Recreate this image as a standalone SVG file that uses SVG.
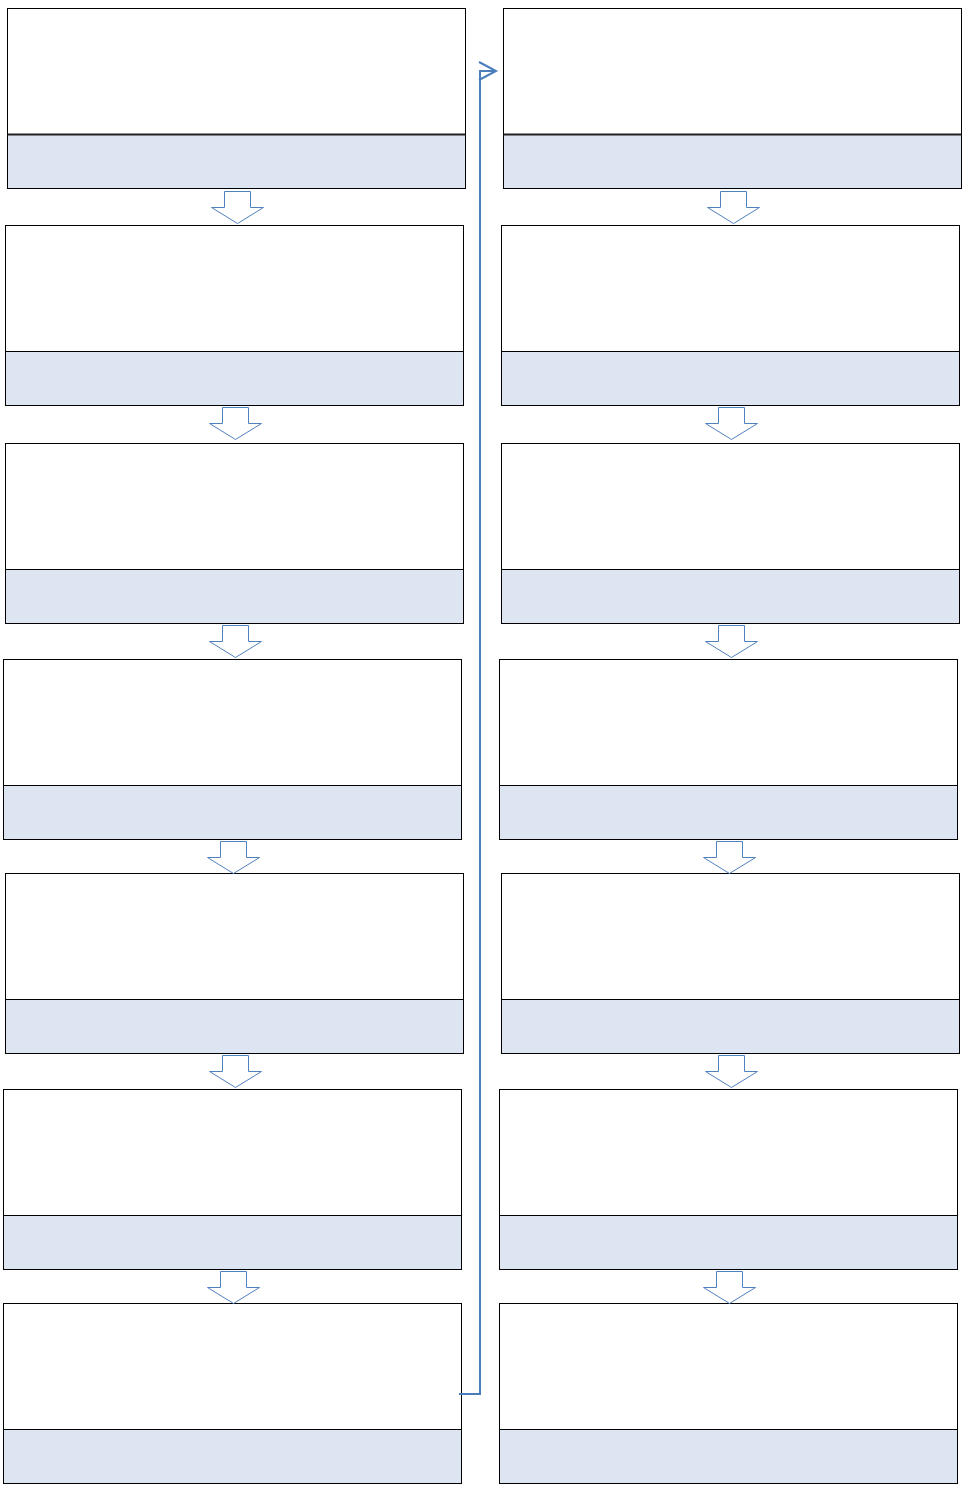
<svg xmlns="http://www.w3.org/2000/svg" width="964" height="1491" viewBox="0 0 964 1491">
<defs>
<style>
.top{fill:#ffffff;stroke:#000;stroke-width:1}
.bot{fill:#dce5f1;stroke:#000;stroke-width:1}
.arr{fill:#ffffff;stroke:#4f81bd;stroke-width:1}
.con{fill:none;stroke:#4a7ebb;stroke-width:2}
</style>
<g id="arrowShape"><path class="arr" d="M13,0 H39 V16 H52 L26,32 L0,16 H13 Z"/></g>
</defs>
<rect width="964" height="1491" fill="#fff"/>
<g id="node-L1"><rect class="top" x="7.5" y="8.5" width="458" height="126"/><rect class="bot" x="7.5" y="134.5" width="458" height="54"/><line x1="7.5" y1="134.5" x2="465.5" y2="134.5" stroke="#222" stroke-width="2"/></g>
<g id="node-L2"><rect class="top" x="5.5" y="225.5" width="458" height="126"/><rect class="bot" x="5.5" y="351.5" width="458" height="54"/></g>
<g id="node-L3"><rect class="top" x="5.5" y="443.5" width="458" height="126"/><rect class="bot" x="5.5" y="569.5" width="458" height="54"/></g>
<g id="node-L4"><rect class="top" x="3.5" y="659.5" width="458" height="126"/><rect class="bot" x="3.5" y="785.5" width="458" height="54"/></g>
<g id="node-L5"><rect class="top" x="5.5" y="873.5" width="458" height="126"/><rect class="bot" x="5.5" y="999.5" width="458" height="54"/></g>
<g id="node-L6"><rect class="top" x="3.5" y="1089.5" width="458" height="126"/><rect class="bot" x="3.5" y="1215.5" width="458" height="54"/></g>
<g id="node-L7"><rect class="top" x="3.5" y="1303.5" width="458" height="126"/><rect class="bot" x="3.5" y="1429.5" width="458" height="54"/></g>
<g id="node-R1"><rect class="top" x="503.5" y="8.5" width="458" height="126"/><rect class="bot" x="503.5" y="134.5" width="458" height="54"/><line x1="503.5" y1="134.5" x2="961.5" y2="134.5" stroke="#222" stroke-width="2"/></g>
<g id="node-R2"><rect class="top" x="501.5" y="225.5" width="458" height="126"/><rect class="bot" x="501.5" y="351.5" width="458" height="54"/></g>
<g id="node-R3"><rect class="top" x="501.5" y="443.5" width="458" height="126"/><rect class="bot" x="501.5" y="569.5" width="458" height="54"/></g>
<g id="node-R4"><rect class="top" x="499.5" y="659.5" width="458" height="126"/><rect class="bot" x="499.5" y="785.5" width="458" height="54"/></g>
<g id="node-R5"><rect class="top" x="501.5" y="873.5" width="458" height="126"/><rect class="bot" x="501.5" y="999.5" width="458" height="54"/></g>
<g id="node-R6"><rect class="top" x="499.5" y="1089.5" width="458" height="126"/><rect class="bot" x="499.5" y="1215.5" width="458" height="54"/></g>
<g id="node-R7"><rect class="top" x="499.5" y="1303.5" width="458" height="126"/><rect class="bot" x="499.5" y="1429.5" width="458" height="54"/></g>
<g id="connectors">
<use href="#arrowShape" x="211.5" y="191.5"/>
<use href="#arrowShape" x="209.5" y="407.5"/>
<use href="#arrowShape" x="209.5" y="625.5"/>
<use href="#arrowShape" x="207.5" y="841.5"/>
<use href="#arrowShape" x="209.5" y="1055.5"/>
<use href="#arrowShape" x="207.5" y="1271.5"/>
<use href="#arrowShape" x="707.5" y="191.5"/>
<use href="#arrowShape" x="705.5" y="407.5"/>
<use href="#arrowShape" x="705.5" y="625.5"/>
<use href="#arrowShape" x="703.5" y="841.5"/>
<use href="#arrowShape" x="705.5" y="1055.5"/>
<use href="#arrowShape" x="703.5" y="1271.5"/>
<path class="con" d="M459,1394 H480 V71 H496"/>
<path class="con" d="M479,62 L496,71 L479,80"/>
</g>
</svg>
